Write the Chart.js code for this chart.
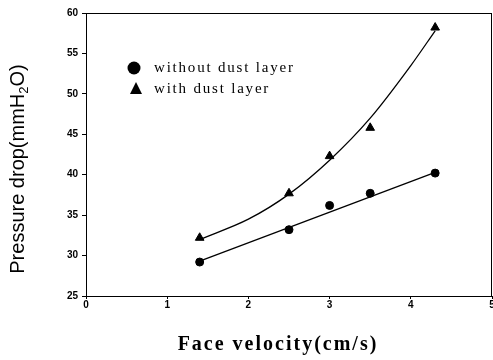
<!DOCTYPE html>
<html>
<head>
<meta charset="utf-8">
<script src="https://cdn.jsdelivr.net/npm/chart.js@4"></script>
<style>
  html, body { margin: 0; padding: 0; background: #fff; overflow: hidden; }
  #wrap { width: 493px; height: 360px; overflow: hidden; }
</style>
</head>
<body>
<div id="wrap"><canvas id="dpChart" width="498" height="360"></canvas></div>
<script>
// measured points
const velocity = [1.4, 2.5, 3.0, 3.5, 4.3];
const withoutDust = [29.2, 33.2, 36.2, 37.7, 40.2];
const withDust = [32.2, 37.7, 42.3, 45.8, 58.2];

// fitted curves
const fitLineX = [1.4, 4.3];
const withoutDustFit = [29.3, 40.3];
const fitCurveX = [1.4, 2.0, 2.5, 3.0, 3.5, 4.0, 4.3];
const withDustFit = [32.0, 34.5, 37.6, 41.8, 47.0, 53.5, 57.8];

const xTicks = [0, 1, 2, 3, 4, 5];
const yTicks = [25, 30, 35, 40, 45, 50, 55, 60];

const legendLabels = ['without dust layer', 'with dust layer'];
const xTitle = 'Face velocity(cm/s)';
const yTitle = ['Pressure drop(mmH', '2', 'O)'];

function toPoints(xs, ys) {
    return xs.map((x, i) => ({ x: x, y: ys[i] }));
}

const framePlugin = {
    id: 'frame',
    afterDraw(chart) {
        const { ctx, chartArea: a } = chart;
        ctx.save();
        ctx.strokeStyle = '#000';
        ctx.lineWidth = 1;
        ctx.strokeRect(a.left + 0.5, a.top + 0.5, a.right - a.left - 1, a.bottom - a.top);
        ctx.restore();
    }
};

const textPlugin = {
    id: 'texts',
    afterDraw(chart) {
        const ctx = chart.ctx;
        ctx.save();
        ctx.fillStyle = '#000';
        // legend markers
        ctx.beginPath();
        ctx.arc(134, 68, 6.5, 0, Math.PI * 2);
        ctx.fill();
        ctx.beginPath();
        ctx.moveTo(136, 82);
        ctx.lineTo(142, 94);
        ctx.lineTo(130, 94);
        ctx.closePath();
        ctx.fill();
        ctx.font = '15px "Liberation Serif", serif';
        ctx.letterSpacing = '1.8px';
        ctx.textBaseline = 'middle';
        ctx.fillText(legendLabels[0], 154, 68);
        ctx.fillText(legendLabels[1], 154, 89);

        // x axis title
        ctx.font = 'bold 20px "Liberation Serif", serif';
        ctx.letterSpacing = '2px';
        ctx.textAlign = 'center';
        ctx.fillText(xTitle, 278, 345);
        ctx.textAlign = 'left';
        ctx.letterSpacing = '0px';

        // y axis title with subscript
        ctx.translate(17, 169);
        ctx.rotate(-Math.PI / 2);
        const big = '20px "Liberation Sans", Arial, sans-serif';
        const small = '13px "Liberation Sans", Arial, sans-serif';
        ctx.font = big;
        const w1 = ctx.measureText(yTitle[0]).width;
        const w3 = ctx.measureText(yTitle[2]).width;
        ctx.font = small;
        const w2 = ctx.measureText(yTitle[1]).width;
        const x0 = -(w1 + w2 + w3) / 2;
        ctx.textBaseline = 'alphabetic';
        ctx.font = big;
        ctx.fillText(yTitle[0], x0, 7);
        ctx.font = small;
        ctx.fillText(yTitle[1], x0 + w1, 11);
        ctx.font = big;
        ctx.fillText(yTitle[2], x0 + w1 + w2, 7);
        ctx.restore();
    }
};

const ctx = document.getElementById('dpChart').getContext('2d');
new Chart(ctx, {
    type: 'scatter',
    data: {
        datasets: [
            {
                label: 'without dust fit',
                type: 'line',
                data: toPoints(fitLineX, withoutDustFit),
                borderColor: '#000',
                borderWidth: 1.3,
                pointRadius: 0,
                fill: false
            },
            {
                label: 'with dust fit',
                type: 'line',
                data: toPoints(fitCurveX, withDustFit),
                borderColor: '#000',
                borderWidth: 1.3,
                pointRadius: 0,
                cubicInterpolationMode: 'monotone',
                fill: false
            },
            {
                label: legendLabels[0],
                data: toPoints(velocity, withoutDust),
                pointStyle: 'circle',
                pointRadius: 4,
                backgroundColor: '#000',
                borderColor: '#000'
            },
            {
                label: legendLabels[1],
                data: toPoints(velocity, withDust),
                pointStyle: 'triangle',
                pointRadius: 5,
                backgroundColor: '#000',
                borderColor: '#000'
            }
        ]
    },
    options: {
        responsive: false,
        animation: false,
        // the x scale keeps a few px on the right for the last tick label,
        // the canvas is a bit wider than the page so the frame ends at x=492
        layout: { padding: { top: 13, right: 1, left: 0, bottom: 0 } },
        plugins: {
            legend: { display: false },
            tooltip: { enabled: false }
        },
        scales: {
            x: {
                type: 'linear',
                min: 0,
                max: 5,
                afterBuildTicks: (s) => { s.ticks = xTicks.map(v => ({ value: v })); },
                afterFit: (s) => { s.height = 64; s.paddingLeft = 0; s.paddingRight = 0; },
                ticks: {
                    color: '#000',
                    font: { family: '"Liberation Sans", Arial, sans-serif', size: 10, weight: 'bold' },
                    padding: 0,
                    maxRotation: 0
                },
                grid: { drawOnChartArea: false, drawTicks: true, tickLength: 3, color: '#000' },
                border: { display: true, color: '#000', width: 1 },
                title: { display: false, text: xTitle }
            },
            y: {
                type: 'linear',
                min: 25,
                max: 60,
                afterBuildTicks: (s) => { s.ticks = yTicks.map(v => ({ value: v })); },
                afterFit: (s) => { s.width = 86; s.paddingTop = 0; s.paddingBottom = 0; },
                ticks: {
                    color: '#000',
                    font: { family: '"Liberation Sans", Arial, sans-serif', size: 10, weight: 'bold' },
                    padding: 4
                },
                grid: { drawOnChartArea: false, drawTicks: true, tickLength: 4, color: '#000' },
                border: { display: true, color: '#000', width: 1 }
            }
        }
    },
    plugins: [framePlugin, textPlugin]
});
</script>
</body>
</html>
